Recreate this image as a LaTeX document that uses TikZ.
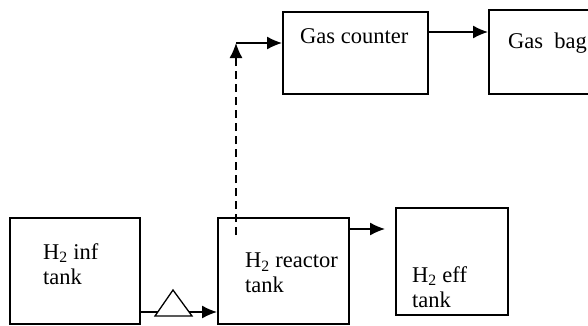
\documentclass[tikz,border=0pt]{standalone}
\usepackage{fontspec}
\setmainfont{Liberation Serif}
\usetikzlibrary{arrows.meta}

\begin{document}
\begin{tikzpicture}[x=1pt,y=-1pt,>={Latex[length=15pt,width=13pt]},line join=miter]
\tikzset{tank/.style={draw,line width=2pt,inner sep=0pt},
  lbl/.style={inner sep=0pt,align=left,font=\fontsize{22.5}{25}\selectfont},
  flow/.style={line width=1.3pt,->}}
\useasboundingbox[fill=white] (0,0) rectangle (588,325);
% boxes
\node[tank,minimum width=130pt,minimum height=106pt] (inf) at (75,271) {};
\node[tank,minimum width=131pt,minimum height=106pt] (reac) at (283.5,271) {};
\node[tank,minimum width=112pt,minimum height=107pt] (eff) at (452,261.5) {};
\node[tank,minimum width=145pt,minimum height=82pt] (gc) at (355.5,53) {};
\node[tank,minimum width=131pt,minimum height=84pt] (gb) at (554.5,52) {};
% texts
\node[lbl,anchor=north west] (tinf) at (43,243.5) {H\textsubscript{2} inf\\tank};
\node[lbl,anchor=north west] (treac) at (245,253) {H\textsubscript{2} reactor\\tank};
\node[lbl,anchor=north west] (teff) at (412,266) {H\textsubscript{2} eff\\tank};
\node[lbl,anchor=base west] (tgc) at (300,43) {Gas counter};
\node[lbl,anchor=base west] (tgb) at (508,48) {Gas~~bag};
% rows of the pipes
\coordinate (feed) at (0,312);
\coordinate (out) at (0,229);
\coordinate (gas) at (0,32);
\coordinate (up) at (236,235);
\coordinate (turn) at (236,43);
\draw[flow] (inf.east |- feed) -- (reac.west |- feed);
\draw[line width=1.3pt,fill=white] (155,316) -- (192,316) -- (173,290) -- cycle;
\draw[flow,shorten >=10pt] (reac.east |- out) ++(-2,0) -- (eff.west |- out);
\draw[flow] (gc.east |- gas) -- (gb.west |- gas);
\draw[flow,dashed,dash pattern=on 8pt off 5pt] (up) -- (turn);
\draw[flow] (turn) -- (gc.west |- turn);
\end{tikzpicture}
\end{document}
